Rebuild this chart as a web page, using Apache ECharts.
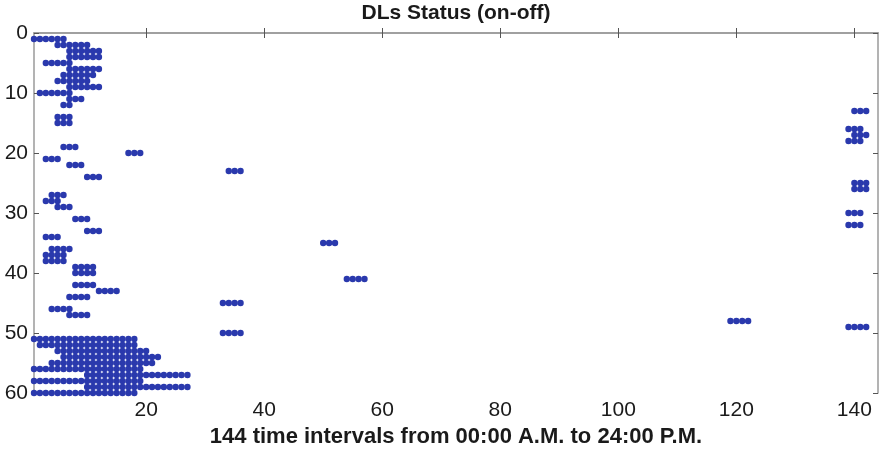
<!DOCTYPE html>
<html>
<head>
<meta charset="utf-8">
<title>DLs Status (on-off)</title>
<script src="https://cdn.jsdelivr.net/npm/echarts@6/dist/echarts.min.js"></script>
<style>
  html, body { margin: 0; padding: 0; background: #fff; }
  #chart { width: 879px; height: 453px; }
</style>
</head>
<body>
<div id="chart"></div>
<script>
// on intervals: DL number, first and last time interval that is "on"
const dlRow    = [1, 2, 3, 4, 5, 6, 7, 8, 9, 10, 11, 12, 14, 15,
                  19, 20, 21, 22, 23, 24, 27, 28, 29, 31, 33, 34, 35, 36, 37, 38, 39, 40,
                  41, 42, 43, 44, 45, 46, 47, 48, 50,
                  51, 52, 53, 54, 55, 56, 57, 58, 59, 60,
                  13, 16, 17, 18, 25, 26, 30, 32, 49];
const onStart  = [1, 5, 7, 7, 3, 7, 6, 5, 7, 2, 7, 6, 5, 5,
                  6, 17, 3, 7, 34, 10, 4, 3, 5, 8, 10, 3, 50, 4, 3, 3, 8, 8,
                  54, 8, 12, 7, 33, 4, 7, 119, 33,
                  1, 2, 5, 6, 4, 1, 10, 1, 10, 1,
                  140, 139, 140, 139, 140, 140, 139, 139, 139];
const onEnd    = [6, 10, 12, 12, 7, 12, 11, 10, 12, 7, 9, 7, 7, 7,
                  8, 19, 5, 9, 36, 12, 6, 5, 7, 10, 12, 5, 52, 7, 6, 6, 11, 11,
                  57, 11, 15, 10, 36, 7, 10, 122, 36,
                  18, 18, 20, 22, 21, 19, 27, 19, 27, 18,
                  142, 141, 142, 141, 142, 142, 141, 141, 142];

const xTicks = [20, 40, 60, 80, 100, 120, 140];

// every "on" time interval becomes one dot
const points = [];
dlRow.forEach((dl, i) => {
  for (let t = onStart[i]; t <= onEnd[i]; t++) {
    points.push([t, dl]);
  }
});

const chart = echarts.init(document.getElementById('chart'));

const lineStyle = { color: '#9a9a9a', width: 1.5 };
const tickStyle = { color: '#555', width: 1 };
const font = 'Liberation Sans, Arial, Helvetica, sans-serif';

const option = {
  animation: false,
  title: {
    text: 'DLs Status (on-off)',
    left: 456,
    textAlign: 'center',
    top: 3,
    padding: 0,
    textStyle: { fontFamily: font, fontSize: 21, fontWeight: 'bold', color: '#1a1a1a' }
  },
  grid: { left: 34, right: 1, top: 33, bottom: 60 },
  xAxis: [
    {
      type: 'value', min: 1, max: 144, position: 'bottom',
      name: '144 time intervals from 00:00 A.M. to 24:00 P.M.',
      nameLocation: 'middle', nameGap: 28,
      nameTextStyle: { fontFamily: font, fontSize: 22, fontWeight: 'bold', color: '#1a1a1a' },
      axisLine: { lineStyle: lineStyle },
      axisTick: { inside: true, length: 5, lineStyle: tickStyle, customValues: xTicks },
      axisLabel: { customValues: xTicks, margin: 7, fontFamily: font, fontSize: 21, color: '#1a1a1a' },
      splitLine: { show: false }
    },
    {
      type: 'value', min: 1, max: 144, position: 'top',
      axisLine: { lineStyle: lineStyle },
      axisTick: { inside: true, length: 5, lineStyle: tickStyle, customValues: xTicks },
      axisLabel: { show: false },
      splitLine: { show: false }
    }
  ],
  yAxis: [
    {
      type: 'value', min: 0, max: 60, interval: 10, inverse: true, position: 'left',
      axisLine: { lineStyle: lineStyle },
      axisTick: { inside: true, length: 5, lineStyle: tickStyle },
      axisLabel: { margin: 6, fontFamily: font, fontSize: 21, color: '#1a1a1a' },
      splitLine: { show: false }
    },
    {
      type: 'value', min: 0, max: 60, interval: 10, inverse: true, position: 'right',
      axisLine: { lineStyle: lineStyle },
      axisTick: { inside: true, length: 5, lineStyle: tickStyle },
      axisLabel: { show: false },
      splitLine: { show: false }
    }
  ],
  series: [
    {
      type: 'scatter',
      xAxisIndex: 0,
      yAxisIndex: 0,
      symbol: 'circle',
      symbolSize: 6.4,
      itemStyle: { color: '#2a39ad', opacity: 1 },
      data: points
    }
  ]
};

chart.setOption(option);
</script>
</body>
</html>
